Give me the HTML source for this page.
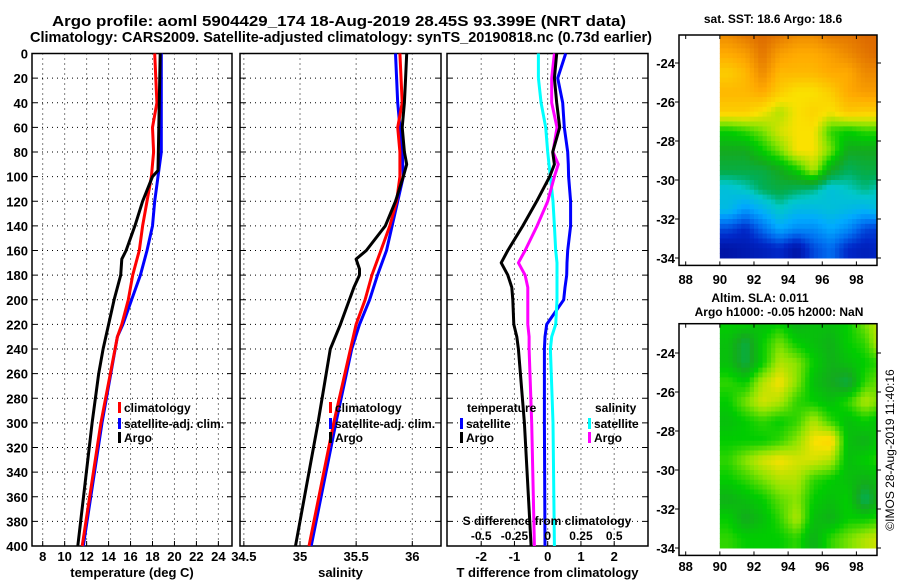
<!DOCTYPE html>
<html><head><meta charset="utf-8">
<style>
html,body{margin:0;padding:0;background:#fff;}
svg{display:block;font-family:"Liberation Sans",Arial,sans-serif;font-weight:bold;}
</style></head>
<body>
<svg id="fig" width="900" height="580" viewBox="0 0 900 580" xmlns="http://www.w3.org/2000/svg">
<text x="339" y="26" font-size="15" text-anchor="middle" textLength="574" lengthAdjust="spacingAndGlyphs">Argo profile: aoml 5904429_174 18-Aug-2019 28.45S 93.399E (NRT data)</text>
<text x="341" y="42" font-size="15" text-anchor="middle" textLength="622" lengthAdjust="spacingAndGlyphs">Climatology: CARS2009. Satellite-adjusted climatology: synTS_20190818.nc (0.73d earlier)</text>
<g id="panels"></g>
<g id="maps"></g>
<text transform="translate(894,450) rotate(-90)" font-size="12" font-weight="normal" text-anchor="middle">©IMOS 28-Aug-2019 11:40:16</text>
</svg>
<script>
// ---- profile data ----
const depthTA=[0,95,100,120,140,160,167,180,200,220,240,260,300,400];
const tempArgo=[18.7,18.5,18.0,17.1,16.4,15.6,15.2,15.1,14.5,14.0,13.5,13.1,12.5,11.2];
const depthTC=[0,40,60,80,100,120,140,160,180,200,220,230,300,400];
const tempClim=[18.2,18.4,18.0,18.1,17.9,17.5,17.1,16.8,16.2,15.8,15.2,14.8,13.3,11.6];
const depthTS=[0,80,100,120,140,160,180,200,220,230,300,400];
const tempSat=[18.8,18.8,18.5,18.2,18.0,17.5,16.9,16.1,15.3,14.8,13.4,11.7];

const depthSA=[0,20,40,60,80,90,100,120,140,160,167,175,180,190,200,220,240,300,400];
const salArgo=[35.95,35.94,35.93,35.91,35.93,35.95,35.92,35.85,35.76,35.59,35.5,35.53,35.53,35.48,35.44,35.36,35.27,35.16,34.96];
const depthSC=[0,40,60,80,100,120,140,160,180,200,220,240,300,400];
const salClim=[35.89,35.91,35.87,35.89,35.89,35.86,35.8,35.72,35.64,35.58,35.5,35.45,35.3,35.08];
const depthSS=[0,40,80,100,120,140,160,180,200,220,240,300,400];
const salSat=[35.85,35.87,35.91,35.92,35.87,35.82,35.77,35.69,35.62,35.53,35.46,35.32,35.1];

const depthD=[0,20,40,60,80,90,100,120,140,160,170,180,190,200,220,230,240,300,400];
const dTsat=[0.54,0.3,0.45,0.5,0.6,0.62,0.63,0.69,0.69,0.6,0.58,0.57,0.52,0.48,-0.03,-0.08,-0.1,-0.1,-0.08];
const dTargo=[0.27,0.2,0.27,0.36,0.15,0.2,0.06,-0.33,-0.75,-1.2,-1.4,-1.2,-1.08,-1.05,-1.02,-0.93,-0.88,-0.7,-0.5];
const dSargo=[0.05,0.03,0.03,0.07,0.04,0.08,0.05,0,-0.08,-0.17,-0.22,-0.17,-0.15,-0.15,-0.15,-0.14,-0.14,-0.12,-0.1];
const dSsat=[-0.07,-0.07,-0.05,-0.015,0,0.01,0.02,0.04,0.05,0.06,0.07,0.07,0.07,0.07,0.06,0.03,0.02,0.04,0.05];

const depthTicks=[0,20,40,60,80,100,120,140,160,180,200,220,240,260,280,300,320,340,360,380,400];
const tTicks=[8,10,12,14,16,18,20,22,24];
const sTicks=[34.5,35,35.5,36];
const dTicks=[-2,-1,0,1,2];
const sdTicks=[-0.5,-0.25,0,0.25,0.5];
const sdTickLabels=["-0.5","-0.25","0","0.25","0.5"];

// ---- map data (1-degree cells, rows from north to south) ----
const mapLons=[90,91,92,93,94,95,96,97,98,99];
const mapLats=[-22.5,-23.5,-24.5,-25.5,-26.5,-27.5,-28.5,-29.5,-30.5,-31.5,-32.5,-33.5];
const sstVals=[
[0.85,0.88,0.9,0.88,0.85,0.85,0.88,0.88,0.9,0.9],
[0.8,0.82,0.88,0.82,0.8,0.8,0.82,0.85,0.88,0.9],
[0.75,0.78,0.85,0.78,0.78,0.78,0.8,0.8,0.85,0.85],
[0.78,0.78,0.8,0.75,0.72,0.72,0.75,0.8,0.82,0.82],
[0.75,0.75,0.72,0.68,0.72,0.74,0.72,0.76,0.75,0.75],
[0.6,0.62,0.65,0.7,0.72,0.72,0.62,0.6,0.62,0.62],
[0.55,0.55,0.6,0.65,0.72,0.72,0.65,0.55,0.55,0.55],
[0.52,0.52,0.52,0.55,0.6,0.68,0.55,0.5,0.52,0.52],
[0.42,0.45,0.5,0.52,0.5,0.48,0.42,0.45,0.48,0.45],
[0.4,0.32,0.38,0.45,0.4,0.4,0.42,0.4,0.38,0.42],
[0.2,0.15,0.25,0.35,0.3,0.3,0.35,0.3,0.2,0.18],
[0.08,0.1,0.12,0.15,0.08,0.2,0.25,0.15,0.12,0.15]];
const slaVals=[
[0.6,0.6,0.58,0.6,0.56,0.58,0.58,0.6,0.65,0.7],
[0.58,0.52,0.6,0.65,0.6,0.58,0.56,0.6,0.62,0.7],
[0.58,0.52,0.6,0.68,0.66,0.6,0.56,0.58,0.6,0.62],
[0.62,0.6,0.68,0.72,0.66,0.58,0.55,0.52,0.62,0.65],
[0.6,0.65,0.7,0.68,0.62,0.6,0.58,0.62,0.68,0.65],
[0.58,0.6,0.62,0.6,0.62,0.68,0.62,0.58,0.6,0.58],
[0.6,0.6,0.6,0.62,0.66,0.72,0.74,0.58,0.56,0.6],
[0.62,0.66,0.7,0.72,0.7,0.7,0.68,0.58,0.6,0.62],
[0.6,0.62,0.65,0.68,0.68,0.62,0.6,0.58,0.56,0.58],
[0.56,0.58,0.6,0.64,0.66,0.6,0.58,0.6,0.5,0.58],
[0.6,0.55,0.58,0.62,0.68,0.58,0.56,0.6,0.6,0.62],
[0.62,0.6,0.6,0.6,0.62,0.56,0.62,0.65,0.68,0.7]];
const lonTicks=[88,90,92,94,96,98];
const latTicks=[-24,-26,-28,-30,-32,-34];

const NS="http://www.w3.org/2000/svg";
function mk(tag,attrs,parent){const e=document.createElementNS(NS,tag);for(const k in attrs)e.setAttribute(k,attrs[k]);parent.appendChild(e);return e;}
const panels=document.getElementById('panels');
const Y0=53.5,Y1=546;
function yD(d){return Y0+(d/400)*(Y1-Y0);}

function panel(name,x0,x1,xs,ticks,labels,xtitle,showY){
  const g=mk('g',{},panels);
  
  
  depthTicks.forEach(d=>{
    if(d>0&&d<400){const l=mk('line',{x1:x0,x2:x1,y1:yD(d),y2:yD(d),stroke:'#000','stroke-width':1,'stroke-dasharray':'1,4'},g);
    
    }
    mk('line',{x1:x0,x2:x0+5,y1:yD(d),y2:yD(d),stroke:'#000'},g);
    mk('line',{x1:x1-5,x2:x1,y1:yD(d),y2:yD(d),stroke:'#000'},g);
    if(showY){const t=mk('text',{x:28,y:yD(d)+5,'font-size':13,'text-anchor':'end'},g);t.textContent=d;
    
    }
  });
  ticks.forEach((v,i)=>{
    const x=xs(v);
    const l=mk('line',{x1:x,x2:x,y1:Y0,y2:Y1,stroke:'#000','stroke-width':1,'stroke-dasharray':'1,4'},g);
    
    
    mk('line',{x1:x,x2:x,y1:Y1-5,y2:Y1,stroke:'#000'},g);
    const t=mk('text',{x:x,y:561,'font-size':13,'text-anchor':'middle'},g);t.textContent=labels[i];
    
    
  });
  const r=mk('rect',{x:x0,y:Y0,width:x1-x0,height:Y1-Y0,fill:'none',stroke:'#000','stroke-width':1.5},g);
  
  
  const tt=mk('text',{x:(x0+x1)/2,y:577,'font-size':13,'text-anchor':'middle'},g);tt.textContent=xtitle;
  
  
  return g;
}
function line(g,name,xs,vals,depths,color){
  const pts=vals.map((v,i)=>xs(v).toFixed(1)+','+yD(depths[i]).toFixed(1)).join(' ');
  const p=mk('polyline',{points:pts,fill:'none',stroke:color,'stroke-width':3,'stroke-linejoin':'round'},g);
  
  
}
function legend(g,x,y,color,label,name){
  const b=mk('rect',{x:x,y:y-10,width:3,height:11,fill:color},g);
  
  
  const t=mk('text',{x:x+6,y:y,'font-size':12},g);t.textContent=label;
  
  
}

const xT=v=>42.7+(v-8)*10.98;
const g1=panel('temperature-panel',32,232,xT,tTicks,tTicks.map(String),'temperature (deg C)',true);
line(g1,'temp-satellite-line',xT,tempSat,depthTS,'#0000ff');
line(g1,'temp-climatology-line',xT,tempClim,depthTC,'#ff0000');
line(g1,'temp-argo-line',xT,tempArgo,depthTA,'#000');
legend(g1,118,412,'#ff0000','climatology','legend-climatology');
legend(g1,118,428,'#0000ff','satellite-adj. clim.','legend-satellite-adj');
legend(g1,118,442,'#000','Argo','legend-argo');

const xS=v=>300+(v-35)*112.3;
const g2=panel('salinity-panel',240,441,xS,sTicks,sTicks.map(String),'salinity',false);
line(g2,'sal-satellite-line',xS,salSat,depthSS,'#0000ff');
line(g2,'sal-climatology-line',xS,salClim,depthSC,'#ff0000');
line(g2,'sal-argo-line',xS,salArgo,depthSA,'#000');
legend(g2,329,412,'#ff0000','climatology','legend-climatology-2');
legend(g2,329,428,'#0000ff','satellite-adj. clim.','legend-satellite-adj-2');
legend(g2,329,442,'#000','Argo','legend-argo-2');

const xD=v=>547.7+v*33.25;
const xSD=v=>547.7+v*133;
const g3=panel('difference-panel',447,648,xD,dTicks,dTicks.map(String),'T difference from climatology',false);
line(g3,'dT-satellite-line',xD,dTsat,depthD,'#0000ff');
line(g3,'dS-satellite-line',xSD,dSsat,depthD,'#00ffff');
line(g3,'dS-argo-line',xSD,dSargo,depthD,'#ff00ff');
line(g3,'dT-argo-line',xD,dTargo,depthD,'#000');
{const t=mk('text',{x:467,y:412,'font-size':12},g3);t.textContent='temperature';

}
legend(g3,460,428,'#0000ff','satellite','legend-t-satellite');
legend(g3,460,442,'#000','Argo','legend-t-argo');
{const t=mk('text',{x:595,y:412,'font-size':12},g3);t.textContent='salinity';

}
legend(g3,588,428,'#00ffff','satellite','legend-s-satellite');
legend(g3,588,442,'#ff00ff','Argo','legend-s-argo');
{const t=mk('text',{x:547,y:525,'font-size':12,'text-anchor':'middle'},g3);t.textContent='S difference from climatology';

}
sdTicks.forEach((v,i)=>{const t=mk('text',{x:xSD(v),y:540,'font-size':12,'text-anchor':'middle'},g3);t.textContent=sdTickLabels[i];

});

// ---- maps ----
const stops=[[0,[0,0,130]],[0.15,[0,40,200]],[0.25,[0,110,240]],[0.35,[0,170,255]],[0.45,[0,200,200]],[0.5,[0,175,90]],[0.55,[20,170,30]],[0.6,[0,205,0]],[0.66,[140,228,0]],[0.72,[250,225,0]],[0.8,[255,170,0]],[0.9,[220,105,0]],[1,[190,70,0]]];
function cmap(v){for(let i=1;i<stops.length;i++){if(v<=stops[i][0]){const a=stops[i-1],b=stops[i];const f=(v-a[0])/(b[0]-a[0]);const c=a[1].map((x,k)=>Math.round(x+(b[1][k]-x)*f));return 'rgb('+c.join(',')+')';}}return 'rgb(190,70,0)';}
function sample(vals,r,c){
  const nr=vals.length,nc=vals[0].length;
  r=Math.max(0,Math.min(nr-1,r));c=Math.max(0,Math.min(nc-1,c));
  const r0=Math.floor(r),c0=Math.floor(c),r1=Math.min(nr-1,r0+1),c1=Math.min(nc-1,c0+1);
  const fr=r-r0,fc=c-c0;
  return vals[r0][c0]*(1-fr)*(1-fc)+vals[r0][c1]*(1-fr)*fc+vals[r1][c0]*fr*(1-fc)+vals[r1][c1]*fr*fc;
}
const maps=document.getElementById('maps');
const mx=lon=>685.7+(lon-88)*17.07;
const SUB=4;
function drawMap(name,vals,yTop,yOf,title1,t1y,xlabY){
  const g=mk('g',{},maps);
  
  
  const ymax=yOf(-34.38);
  mapLats.forEach((lat,r)=>{mapLons.forEach((lon,c)=>{
    for(let i=0;i<SUB;i++)for(let j=0;j<SUB;j++){
      const la=lat+0.5-(i+0.5)/SUB, lo=lon+(j+0.5)/SUB;
      const x0=mx(lon+j/SUB),x1=Math.min(mx(lon+(j+1)/SUB),877);
      if(x1<=x0)continue;
      const y0=Math.max(yOf(lat+0.5-i/SUB),yTop),y1=Math.min(yOf(lat+0.5-(i+1)/SUB),ymax);
      if(y1<=y0)continue;
      const v=sample(vals,(-22.5-la)-0.0+0,(lo-90.5));
      const cell=mk('rect',{x:x0,y:y0,width:x1-x0+0.5,height:y1-y0+0.5,fill:cmap(v)},g);
      
      
    }
  });});
  const b=mk('rect',{x:679,y:yTop,width:198,height:ymax-yTop,fill:'none',stroke:'#000','stroke-width':1.5},g);
  
  
  lonTicks.forEach(l=>{mk('line',{x1:mx(l),x2:mx(l),y1:yTop,y2:yTop+4,stroke:'#000'},g);mk('line',{x1:mx(l),x2:mx(l),y1:ymax,y2:ymax-4,stroke:'#000'},g);
    const t=mk('text',{x:mx(l),y:xlabY,'font-size':13,'text-anchor':'middle'},g);t.textContent=l;
    
    });
  latTicks.forEach(l=>{const y=yOf(l);mk('line',{x1:679,x2:675,y1:y,y2:y,stroke:'#000'},g);mk('line',{x1:877,x2:881,y1:y,y2:y,stroke:'#000'},g);
    const t=mk('text',{x:675,y:y+5,'font-size':13,'text-anchor':'end'},g);t.textContent=l;
    
    });
  if(title1){const t1=mk('text',{x:773,y:t1y,'font-size':12,'text-anchor':'middle'},g);t1.textContent=title1;
  
  }
}
drawMap('sst-map',sstVals,35,lat=>63+(-24-lat)*19.5,'sat. SST: 18.6 Argo: 18.6',23,284);
drawMap('sla-map',slaVals,323.7,lat=>353+(-24-lat)*19.5,'',0,571);
{const t=mk('text',{x:760,y:302,'font-size':12,'text-anchor':'middle'},maps);t.textContent='Altim. SLA: 0.011';


const t2=mk('text',{x:779,y:316,'font-size':12,'text-anchor':'middle'},maps);t2.textContent='Argo h1000: -0.05 h2000: NaN';

}
</script>
</body></html>
